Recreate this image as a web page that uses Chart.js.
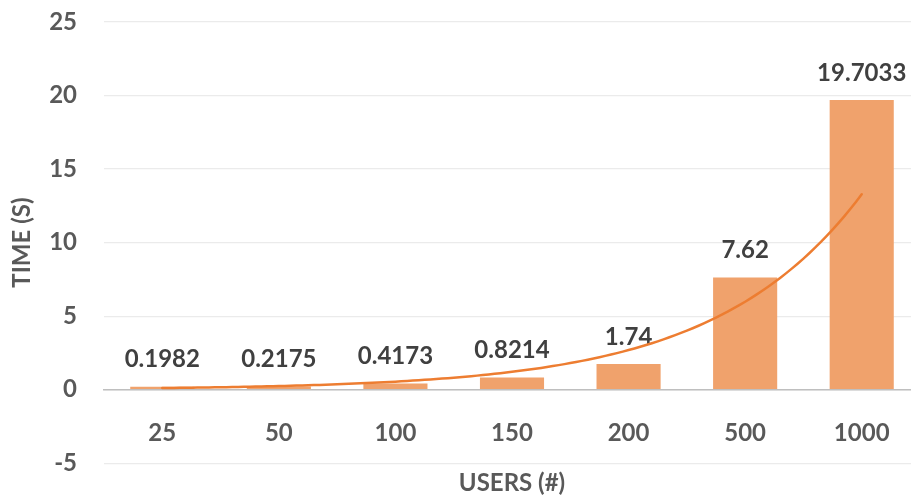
<!DOCTYPE html>
<html lang="en">
<head>
    <meta charset="UTF-8">
    <title>Response Time vs Users</title>
    <script src="https://cdn.jsdelivr.net/npm/chart.js"></script>
    <style>
        html, body { margin: 0; padding: 0; background: #fff; overflow: hidden; }
        /* plot runs slightly past the right edge of the window */
        #chartContainer { width: 920px; height: 498px; position: relative; }
    </style>
</head>
<body>
    <div id="chartContainer">
        <canvas id="timeChart"></canvas>
    </div>

    <script>
        // data
        const users = ["25", "50", "100", "150", "200", "500", "1000"];
        const timeSec = [0.1982, 0.2175, 0.4173, 0.8214, 1.74, 7.62, 19.7033];
        const valueLabels = ["0.1982", "0.2175", "0.4173", "0.8214", "1.74", "7.62", "19.7033"];
        const yTicks = [-5, 0, 5, 10, 15, 20, 25];

        const FONT = "Lato";
        const axisGray = "#595959";

        // exponential trendline y = a * e^(b*x), x = 1..n, least squares on ln(y)
        function expFit(values) {
            const n = values.length;
            let sx = 0, sy = 0, sxx = 0, sxy = 0;
            values.forEach((v, i) => {
                const x = i + 1, ly = Math.log(v);
                sx += x; sy += ly; sxx += x * x; sxy += x * ly;
            });
            const b = (n * sxy - sx * sy) / (n * sxx - sx * sx);
            const a = Math.exp((sy - b * sx) / n);
            return x => a * Math.exp(b * x);
        }
        const trend = expFit(timeSec);

        const barLabels = {
            id: "barLabels",
            afterDatasetsDraw(chart) {
                const ctx = chart.ctx;
                const meta = chart.getDatasetMeta(0);
                ctx.save();
                ctx.font = "bold 24px " + FONT;
                ctx.fillStyle = "#404040";
                ctx.textAlign = "center";
                ctx.textBaseline = "middle";
                meta.data.forEach((bar, i) => {
                    ctx.fillText(valueLabels[i], bar.x, bar.y - 27);
                });
                ctx.restore();
            }
        };

        const trendLine = {
            id: "trendLine",
            afterDatasetsDraw(chart) {
                const { ctx, scales: { x, y } } = chart;
                ctx.save();
                ctx.strokeStyle = "#ED7D31";
                ctx.lineWidth = 2.5;
                ctx.lineCap = "round";
                ctx.beginPath();
                for (let t = 0; t <= timeSec.length - 1 + 1e-9; t += 0.05) {
                    const px = x.getPixelForValue(t);
                    const py = y.getPixelForValue(trend(t + 1));
                    if (t === 0) ctx.moveTo(px, py); else ctx.lineTo(px, py);
                }
                ctx.stroke();
                ctx.restore();
            }
        };

        new Chart(document.getElementById("timeChart"), {
            type: "bar",
            data: {
                labels: users,
                datasets: [{
                    data: timeSec,
                    backgroundColor: "#F0A26C",
                    barPercentage: 1,
                    categoryPercentage: 0.55
                }]
            },
            options: {
                responsive: true,
                maintainAspectRatio: false,
                animation: false,
                layout: { padding: { top: 22, right: 0, bottom: 0, left: 0 } },
                scales: {
                    x: {
                        position: { y: 0 },
                        grid: { display: false },
                        border: { color: "#BFBFBF", width: 1.5 },
                        ticks: {
                            color: axisGray,
                            padding: 21,
                            maxRotation: 0,
                            font: { family: FONT, size: 24, weight: "bold" }
                        }
                    },
                    y: {
                        min: -5,
                        max: 25,
                        afterBuildTicks: axis => { axis.ticks = yTicks.map(v => ({ value: v })); },
                        afterFit: axis => {
                            axis.width = 104;
                            // tick padding is horizontal only here, don't let it pad the plot vertically
                            axis.paddingTop = 0;
                            axis.paddingBottom = 0;
                        },
                        grid: { color: "#EBEBEB", lineWidth: 1.2, drawTicks: false },
                        border: { display: false },
                        ticks: {
                            color: axisGray,
                            padding: 27,
                            font: { family: FONT, size: 24, weight: "bold" }
                        },
                        title: {
                            display: true,
                            text: "TIME (S)",
                            color: axisGray,
                            padding: { top: 8, bottom: 0 },
                            font: { family: FONT, size: 24, weight: "bold" }
                        }
                    }
                },
                plugins: {
                    legend: { display: false },
                    tooltip: { enabled: false },
                    title: {
                        display: true,
                        position: "bottom",
                        fullSize: false,
                        text: "USERS (#)",
                        color: axisGray,
                        padding: { top: 6, bottom: 0 },
                        font: { family: FONT, size: 24, weight: "bold" }
                    }
                }
            },
            plugins: [barLabels, trendLine]
        });
    </script>
</body>
</html>
